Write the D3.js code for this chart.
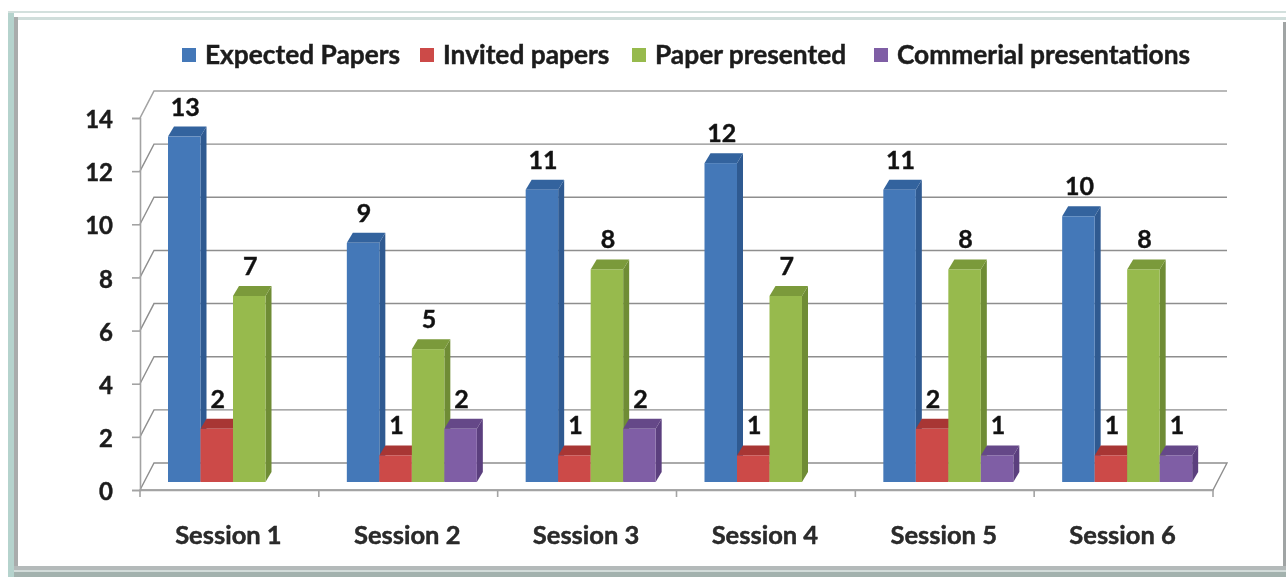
<!DOCTYPE html>
<html>
<head>
<meta charset="utf-8">
<script src="https://cdn.jsdelivr.net/npm/d3@7"></script>
<style>
  html, body { margin: 0; padding: 0; background: #ffffff; }
  svg { display: block; filter: blur(0.5px); }
  text { font-family: Lato, "Open Sans", sans-serif; font-weight: 700; fill: #1c1c1c; stroke: #1c1c1c; stroke-width: 0.45px; }
  .axis-line { stroke: #a3a3a3; stroke-width: 1.6; fill: none; }
  .grid-line { stroke: #8e8e8e; stroke-width: 1.4; fill: none; }
</style>
</head>
<body>
<div id="chart"></div>
<script>
// 3D-look clustered columns, papers per session
const width = 1286;
const height = 577;

const sessions = ["Session 1", "Session 2", "Session 3", "Session 4", "Session 5", "Session 6"];
const seriesNames = ["Expected Papers", "Invited papers", "Paper presented", "Commerial presentations"];
const expectedPapers = [13, 9, 11, 12, 11, 10];
const invitedPapers = [2, 1, 1, 1, 2, 1];
const paperPresented = [7, 5, 8, 7, 8, 8];
const commercialPresentations = [null, 2, 2, null, 1, 1];
const yTicks = [0, 2, 4, 6, 8, 10, 12, 14];

const seriesValues = [expectedPapers, invitedPapers, paperPresented, commercialPresentations];
const front = ["#4478b8", "#cc4a48", "#97ba4d", "#7f5ea5"];
const side = ["#2f5a91", "#99322f", "#6f8c35", "#5b3f7e"];
const cap = ["#33639e", "#a83634", "#7b9a3b", "#654888"];

const plot = { left: 140, right: 1213, top: 118, bottom: 490 };
const wall = { dx: 14, dy: -27 };     // depth of the floor and walls
const bar = { dx: 6, dy: -10, base: -8 };  // depth of each column

const svg = d3.select("#chart")
  .append("svg")
  .attr("width", width)
  .attr("height", height)
  .attr("viewBox", `0 0 ${width} ${height}`);

// window frame round the chart: thin pale lines on top, heavier left and bottom
const frame = svg.append("g");
frame.append("rect").attr("x", 8).attr("y", 11).attr("width", 1278).attr("height", 2).attr("fill", "#d3e0dd");
frame.append("rect").attr("x", 8).attr("y", 17).attr("width", 1278).attr("height", 3).attr("fill", "#d0dedb");
frame.append("rect").attr("x", 8).attr("y", 13).attr("width", 6).attr("height", 564).attr("fill", "#b5d3cd");
frame.append("rect").attr("x", 14).attr("y", 17).attr("width", 4).attr("height", 553).attr("fill", "#a9acac");
frame.append("rect").attr("x", 1283).attr("y", 22).attr("width", 3).attr("height", 548).attr("fill", "#a0a4a4");
frame.append("rect").attr("x", 14).attr("y", 566).attr("width", 1272).attr("height", 4).attr("fill", "#b4baba");
frame.append("rect").attr("x", 14).attr("y", 570).attr("width", 1272).attr("height", 2).attr("fill", "#d3dcda");
frame.append("rect").attr("x", 14).attr("y", 572).attr("width", 1272).attr("height", 5).attr("fill", "#a3b2ae");

const xScale = d3.scaleBand()
  .domain(sessions)
  .range([plot.left, plot.right]);

const xInner = d3.scaleBand()
  .domain(seriesNames)
  .range([28, 158]);

const yScale = d3.scaleLinear()
  .domain([0, 14])
  .range([plot.bottom, plot.top]);

// back wall gridlines with their slanted side wall part
svg.append("g")
  .selectAll("path")
  .data(yTicks)
  .join("path")
  .attr("class", d => d === 14 ? "axis-line" : "grid-line")
  .attr("d", d => {
    const y = yScale(d);
    const back = `M${plot.left},${y}L${plot.left + wall.dx},${y + wall.dy}L${plot.right + wall.dx},${y + wall.dy}`;
    return d === 0 ? back + `L${plot.right},${y}Z` : back;
  });

// axes, tick labels go in separate text so the sizes stay under control
const yAxis = svg.append("g")
  .attr("transform", `translate(${plot.left},0)`)
  .call(d3.axisLeft(yScale).tickValues(yTicks).tickSize(8).tickPadding(19));

const xAxis = svg.append("g")
  .attr("transform", `translate(0,${plot.bottom})`)
  .call(d3.axisBottom(xScale).tickValues([]).tickSizeOuter(0));

xAxis.selectAll(".tick-mark")
  .data(d3.range(sessions.length + 1))
  .join("line")
  .attr("class", "axis-line tick-mark")
  .attr("x1", i => i === sessions.length ? plot.right : xScale(sessions[i]))
  .attr("x2", i => i === sessions.length ? plot.right : xScale(sessions[i]))
  .attr("y1", 0)
  .attr("y2", 7);

svg.selectAll(".domain, .tick line")
  .attr("stroke", "#a3a3a3")
  .attr("stroke-width", 1.6);
yAxis.selectAll("text")
  .attr("y", 2)
  .style("font-size", "24px")
  .attr("fill", "#1c1c1c");

xAxis.selectAll(".cat-label")
  .data(sessions)
  .join("text")
  .attr("class", "cat-label")
  .attr("x", d => xScale(d) + xScale.bandwidth() / 2 - 1)
  .attr("y", 54)
  .attr("text-anchor", "middle")
  .style("font-size", "25.5px")
  .style("fill", "#2b2b2b")
  .text(d => d);

// columns: series drawn in order so each one overlaps the side of the last
seriesNames.forEach((name, s) => {
  const rows = sessions
    .map((session, i) => ({ session, value: seriesValues[s][i] }))
    .filter(d => d.value !== null);

  const g = svg.append("g");
  const x0 = d => xScale(d.session) + xInner(name);
  const x1 = d => x0(d) + xInner.bandwidth();
  const yTop = d => yScale(d.value) + bar.base;
  const yBase = yScale(0) + bar.base;

  g.selectAll(".side")
    .data(rows)
    .join("path")
    .attr("fill", side[s])
    .attr("d", d => `M${x1(d)},${yTop(d)}L${x1(d) + bar.dx},${yTop(d) + bar.dy}L${x1(d) + bar.dx},${yBase + bar.dy}L${x1(d)},${yBase}Z`);

  g.selectAll(".cap")
    .data(rows)
    .join("path")
    .attr("fill", cap[s])
    .attr("d", d => `M${x0(d)},${yTop(d)}L${x0(d) + bar.dx},${yTop(d) + bar.dy}L${x1(d) + bar.dx},${yTop(d) + bar.dy}L${x1(d)},${yTop(d)}Z`);

  g.selectAll("rect")
    .data(rows)
    .join("rect")
    .attr("x", x0)
    .attr("y", yTop)
    .attr("width", xInner.bandwidth())
    .attr("height", d => yBase - yTop(d))
    .attr("fill", front[s]);

  g.selectAll("text")
    .data(rows)
    .join("text")
    .attr("x", d => (x0(d) + x1(d)) / 2 + 1)
    .attr("y", d => yTop(d) - 21)
    .attr("text-anchor", "middle")
    .style("font-size", "25px")
    .style("fill", "#111111")
    .text(d => d.value);
});

// legend
const legendX = [182, 420, 632, 874];
const legend = svg.append("g");
seriesNames.forEach((name, s) => {
  legend.append("rect")
    .attr("x", legendX[s]).attr("y", 48)
    .attr("width", 14).attr("height", 14)
    .attr("fill", front[s]);
  legend.append("text")
    .attr("x", legendX[s] + 23).attr("y", 64)
    .style("font-size", "26.3px")
    .text(name);
});
</script>
</body>
</html>
